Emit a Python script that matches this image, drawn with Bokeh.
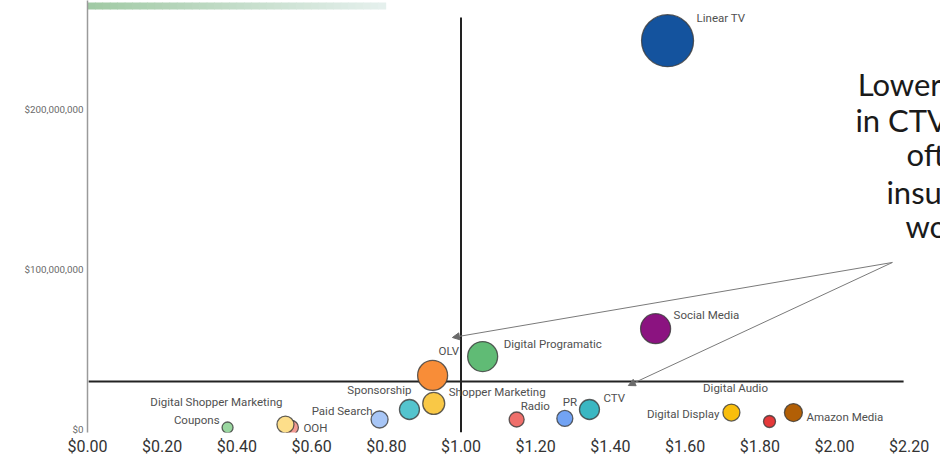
from bokeh.plotting import figure
from bokeh.models import (Range1d, FixedTicker, NumeralTickFormatter, ColumnDataSource,
                          Arrow, NormalHead, BoxAnnotation)
from bokeh.core.properties import value
from bokeh.embed import file_html
from bokeh.resources import INLINE

# ---- data -----------------------------------------------------------------
channels = ["Linear TV", "Social Media", "Digital Programatic", "OLV",
            "Shopper Marketing", "Sponsorship", "Paid Search", "OOH",
            "Digital Shopper Marketing", "Coupons", "Radio", "PR", "CTV",
            "Digital Display", "Digital Audio", "Amazon Media"]
cpm = [1.553, 1.521, 1.058, 0.924,
       0.927, 0.862, 0.782, 0.546,
       0.530, 0.375, 1.149, 1.278, 1.344,
       1.724, 1.826, 1.890]
spend = [243_000_000, 63_000_000, 45_600_000, 33_800_000,
         16_300_000, 12_500_000, 6_250_000, 1_250_000,
         3_100_000, 1_250_000, 6_250_000, 6_900_000, 12_500_000,
         10_600_000, 5_000_000, 10_600_000]
bubble_weight = [52, 30, 30, 30,
                 22, 20, 17, 14,
                 17, 11, 15, 16, 20,
                 17, 12, 18]

x_ticks = [0.0, 0.2, 0.4, 0.6, 0.8, 1.0, 1.2, 1.4, 1.6, 1.8, 2.0, 2.2]
y_ticks = [0, 100_000_000, 200_000_000]

cpm_benchmark = 1.00
spend_benchmark = 30_000_000

callout_lines = ["Lower CPMs", "in CTV are", "often", "insufficient", "working"]

# ---- styling --------------------------------------------------------------
colors = ["#14539E", "#8B1380", "#60BB75", "#F88D38",
          "#F9C846", "#54C4CE", "#A8C6F6", "#F29A93",
          "#FDDE8A", "#9AD7A0", "#EF6F6B", "#72A3F4", "#3BB7C2",
          "#F9BE0C", "#E5393A", "#B25F06"]
label_dx = [29, 18, 21, 6, 15, 2, -7, 12, -3, -8, 4, -2, 14, -12, -34, 13]
label_dy = [-23, -14, -13, -24, -11, -20, -9, 0, -23, -8, -14, -16, -12, 1, -34, 4]
label_align = ["left", "left", "left", "left", "left", "right", "right", "left",
               "right", "right", "left", "left", "left", "right", "center", "left"]

X_END = 2.2838
Y_START, Y_END = -1_875_000, 268_125_000
PX_PER_Y = 432 / (Y_END - Y_START)
PX_PER_X = 373.5

p = figure(width=940, height=458, output_backend="svg", toolbar_location=None,
           x_range=Range1d(0, X_END), y_range=Range1d(Y_START, Y_END),
           min_border_left=87, min_border_right=0, min_border_top=0,
           min_border_bottom=26)
p.outline_line_color = None
p.xgrid.visible = False
p.ygrid.visible = False
p.background_fill_color = "white"
p.border_fill_color = "white"

# header ribbon fading from green to pale
c0 = (140, 190, 142)
c1 = (230, 240, 238)
ribbon_end = 385


def ribbon_color(px):
    t = min(max(px / ribbon_end, 0), 1)
    return "#%02x%02x%02x" % tuple(int(round(a + (b - a) * t)) for a, b in zip(c0, c1))


bar_top = Y_END - 2 / PX_PER_Y
bar_bottom = Y_END - 9 / PX_PER_Y
n_seg = 40
seg_w = (ribbon_end - 87) / n_seg
for i in range(n_seg):
    px0 = 87 + seg_w * i
    p.add_layout(BoxAnnotation(left=(px0 - 87) / PX_PER_X,
                               right=(px0 + seg_w + 0.7 - 87) / PX_PER_X,
                               top=bar_top, bottom=bar_bottom,
                               fill_color=ribbon_color(px0 + seg_w / 2), fill_alpha=1,
                               line_color=None, level="underlay"))

# axes
xa = p.xaxis[0]
xa.ticker = FixedTicker(ticks=x_ticks)
xa.formatter = NumeralTickFormatter(format="$0.00")
xa.axis_line_color = None
xa.major_tick_line_color = None
xa.minor_tick_line_color = None
xa.major_tick_out = 0
xa.major_tick_in = 0
xa.major_label_text_font = "Roboto"
xa.major_label_text_font_size = "16px"
xa.major_label_text_color = "#333333"
xa.major_label_text_line_height = 0.4
xa.major_label_standoff = 4

ya = p.yaxis[0]
ya.ticker = FixedTicker(ticks=y_ticks)
ya.formatter = NumeralTickFormatter(format="$0,0")
ya.axis_line_color = "#9a9a9a"
ya.axis_line_width = 1.5
ya.major_tick_line_color = None
ya.minor_tick_line_color = None
ya.major_tick_out = 0
ya.major_tick_in = 0
ya.major_label_text_font = "Roboto"
ya.major_label_text_font_size = "9.8px"
ya.major_label_text_color = "#6a6a6a"
ya.major_label_standoff = 4

# quadrant dividers
p.segment(x0=[cpm_benchmark], y0=[Y_START], x1=[cpm_benchmark], y1=[257_500_000],
          line_color="#222222", line_width=2)
p.segment(x0=[0.003], y0=[spend_benchmark], x1=[2.185], y1=[spend_benchmark],
          line_color="#222222", line_width=2)

# callout arrows
for hx, hy in [(0.977, 57_500_000), (1.448, 27_500_000)]:
    p.add_layout(Arrow(x_start=2.155, y_start=104_400_000, x_end=hx, y_end=hy,
                       line_color="#7a7a7a", line_width=1,
                       end=NormalHead(size=7, fill_color="#6a6a6a",
                                      line_color="#6a6a6a", line_width=1)))

src = ColumnDataSource(dict(channel=channels, cpm=cpm, spend=spend,
                            size=bubble_weight, color=colors,
                            dx=label_dx, dy=label_dy, align=label_align))

p.scatter(x="cpm", y="spend", size="size", source=src, fill_color="color",
          fill_alpha=1, line_color="#3a3a3a", line_alpha=0.8, line_width=1.3)

p.text(x="cpm", y="spend", text="channel", source=src, x_offset="dx",
       y_offset="dy", text_align="align", text_baseline="middle",
       text_font=value("Roboto"), text_font_size="11.5px",
       text_color="#505050")

# side callout text
cx = [2.062, 2.056, 2.193, 2.139, 2.190]
cy = [216_250_000, 193_750_000, 171_900_000, 148_750_000, 126_900_000]
p.text(x=cx, y=cy, text=callout_lines, text_align="left", text_baseline="middle",
       text_font=value("Lato"), text_font_size="31px", text_color="#1a1a1a")

open("out.html", "w").write(file_html(p, INLINE))
